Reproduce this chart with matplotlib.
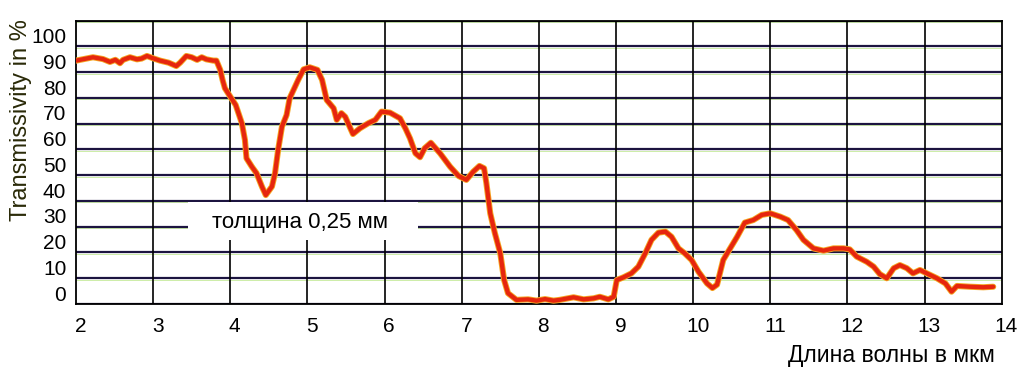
import matplotlib
matplotlib.use("Agg")
import matplotlib.pyplot as plt
from matplotlib.patches import Rectangle
from matplotlib.transforms import ScaledTranslation, offset_copy

# wavelength in micrometres, transmissivity in %
wavelength = [
    2.00, 2.10, 2.22, 2.35, 2.44, 2.51, 2.57, 2.61, 2.70, 2.79, 2.85, 2.92,
    3.00, 3.09, 3.20, 3.30, 3.35, 3.43, 3.50, 3.57, 3.63, 3.69, 3.78, 3.82,
    3.87, 3.90, 3.93, 4.00, 4.07, 4.15, 4.19, 4.21, 4.28, 4.34, 4.41, 4.46,
    4.54, 4.58, 4.62, 4.67, 4.73, 4.77, 4.82, 4.88, 4.95, 5.03, 5.13, 5.19,
    5.25, 5.34, 5.38, 5.44, 5.49, 5.59, 5.68, 5.79, 5.88, 5.96, 6.07, 6.20,
    6.27, 6.33, 6.40, 6.46, 6.52, 6.60, 6.72, 6.85, 6.96, 7.06, 7.15, 7.23,
    7.29, 7.32, 7.37, 7.43, 7.50, 7.55, 7.60, 7.71, 7.86, 7.97, 8.08, 8.19,
    8.27, 8.45, 8.58, 8.71, 8.79, 8.90, 8.97, 9.01, 9.10, 9.20, 9.29, 9.38,
    9.46, 9.55, 9.64, 9.72, 9.81, 9.89, 9.98, 10.07, 10.18, 10.25, 10.31,
    10.39, 10.48, 10.57, 10.67, 10.78, 10.89, 11.00, 11.13, 11.23, 11.34,
    11.43, 11.56, 11.69, 11.82, 11.95, 12.03, 12.12, 12.25, 12.34, 12.42,
    12.51, 12.60, 12.68, 12.77, 12.85, 12.94, 13.03, 13.16, 13.27, 13.35,
    13.42, 13.59, 13.76, 13.89,
]
transmissivity = [
    89.5, 90.1, 90.8, 90.1, 89.0, 89.8, 88.5, 89.8, 90.8, 90.0, 90.3, 91.3,
    90.4, 89.5, 88.7, 87.4, 88.7, 91.3, 90.8, 89.8, 90.8, 90.0, 89.5, 89.5,
    85.9, 82.0, 78.8, 75.5, 72.3, 65.2, 58.7, 51.6, 48.3, 45.8, 40.6, 37.3,
    40.6, 45.8, 54.8, 63.9, 68.4, 74.9, 78.1, 82.0, 86.1, 86.9, 85.9, 82.0,
    74.2, 71.0, 66.5, 69.1, 67.7, 61.0, 63.2, 65.2, 66.5, 69.7, 69.3, 67.1,
    63.2, 59.3, 53.5, 52.0, 55.5, 57.6, 53.5, 48.3, 44.7, 43.2, 46.4, 48.6,
    47.7, 41.9, 30.2, 22.5, 14.7, 4.3, -0.8, -3.4, -3.2, -3.7, -3.1, -3.7,
    -3.4, -2.4, -3.2, -2.8, -2.2, -3.2, -2.2, 4.3, 5.4, 6.9, 9.5, 14.7,
    19.9, 22.7, 23.1, 21.1, 16.6, 14.7, 12.1, 7.5, 3.0, 1.2, 2.5,
    12.1, 16.6, 21.1, 26.6, 27.6, 29.6, 30.2, 28.9, 27.6, 23.7,
    19.9, 16.6, 15.7, 16.6, 16.6, 16.2, 13.4, 11.4, 9.5, 6.6,
    5.0, 8.9, 10.1, 8.9, 6.9, 8.2, 6.9, 5.0, 3.0, -0.2,
    2.0, 1.7, 1.5, 1.7,
]

x_ticks = list(range(2, 15))
y_ticks = list(range(0, 101, 10))
grid_levels = list(range(-5, 106, 10))

note = "толщина 0,25 мм"
x_title = "Длина волны в мкм"
y_title = "Transmissivity in %"

sans = ["Liberation Sans", "DejaVu Sans"]

fig = plt.figure(figsize=(10.22, 3.86), dpi=100)
ax = fig.add_axes([76 / 1022, 1 - 304 / 386, (1001.7 - 76) / 1022, (304 - 20.7) / 386])
ax.set_xlim(2, 14)
ax.set_ylim(-5, 105)

# horizontal lines, dark core with a faint green fringe underneath (scan look)
below = offset_copy(ax.transData, fig=fig, y=-1.5, units="dots")
for lvl in grid_levels:
    ax.plot([2, 14], [lvl, lvl], color="#7fd020", lw=0.6, alpha=0.45, transform=below, zorder=1)
    ax.axhline(lvl, color="#1c1440", lw=1.6, zorder=1.5)
for xv in x_ticks[1:-1]:
    ax.axvline(xv, color="black", lw=1.2, zorder=1.5)

# white box behind the thickness note
ax.add_patch(Rectangle((3.45, 19.9), 2.98, 14.6, facecolor="white", edgecolor="none", zorder=2))
ax.text(4.91, 24.6, note, ha="center", va="baseline", fontsize=16, family=sans, zorder=3)

# the curve: orange halo then red core
ax.plot(wavelength, transmissivity, color="#f5a623", lw=4.4, solid_capstyle="round",
        solid_joinstyle="round", zorder=4)
ax.plot(wavelength, transmissivity, color="#e6260e", lw=3.1, solid_capstyle="round",
        solid_joinstyle="round", zorder=5)

for s in ax.spines.values():
    s.set_color("black")
    s.set_linewidth(1.3)
    s.set_zorder(1.6)

ax.set_xticks(x_ticks)
ax.set_xticklabels([str(v) for v in x_ticks])
ax.set_yticks(y_ticks)
ax.set_yticklabels([str(v) for v in y_ticks])
ax.tick_params(length=0, labelsize=15)
ax.tick_params(axis="x", pad=9)
ax.tick_params(axis="y", pad=7)
for lab in ax.get_xticklabels():
    lab.set_family(sans)
    lab.set_transform(lab.get_transform() + ScaledTranslation(0.045, 0, fig.dpi_scale_trans))
for lab in ax.get_yticklabels():
    lab.set_family(sans)
    lab.set_transform(lab.get_transform() + ScaledTranslation(0, -0.02, fig.dpi_scale_trans))

fig.text(995 / 1022, 1 - 362 / 386, x_title, ha="right", va="baseline", fontsize=16.5,
         family=sans)
fig.text(21 / 1022, 1 - 120 / 386, y_title, rotation=90, ha="center", va="center",
         fontsize=17, color="#2a2a08", family=sans)

fig.savefig("out.png", dpi=100)
